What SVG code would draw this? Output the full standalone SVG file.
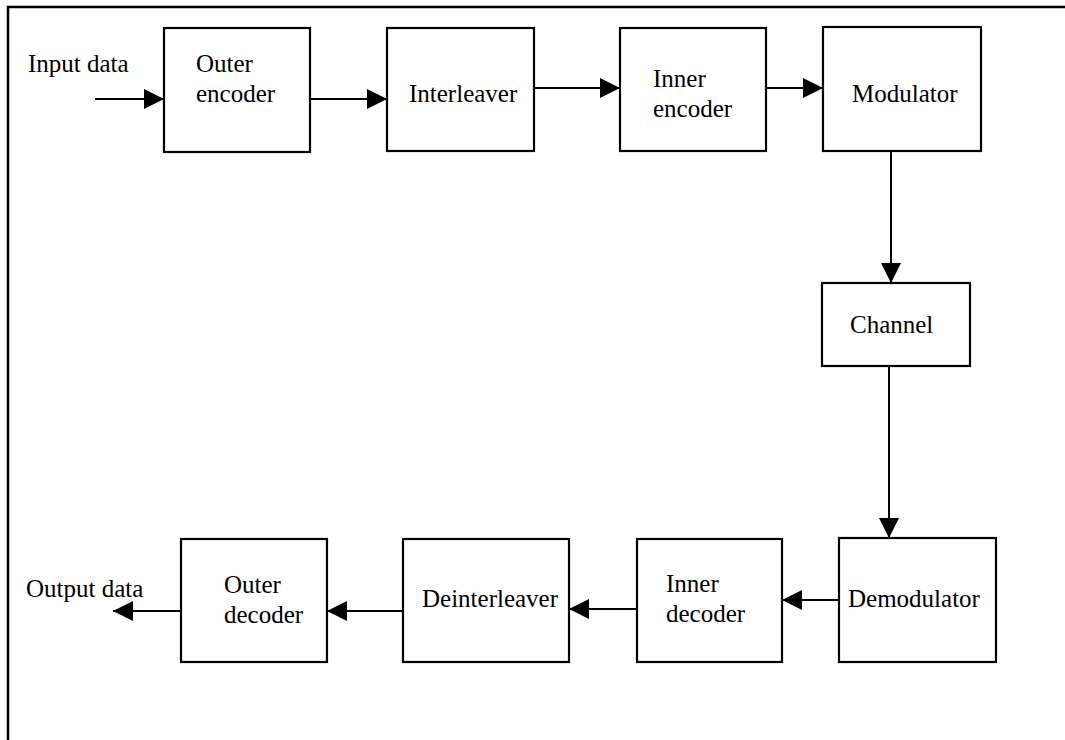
<svg xmlns="http://www.w3.org/2000/svg" width="1065" height="740" viewBox="0 0 1065 740">
  <style>
    .box { fill: #ffffff; stroke: #000000; stroke-width: 2.2; }
    .wire { fill: none; stroke: #000000; stroke-width: 2; marker-end: url(#head); }
    .frame { fill: none; stroke: #000000; stroke-width: 2.5; }
    text { font-family: "Liberation Serif", "Times New Roman", serif; font-size: 25px; fill: #000000; }
  </style>
  <defs>
    <marker id="head" viewBox="0 0 20 20" refX="20" refY="10" markerWidth="20" markerHeight="20" markerUnits="userSpaceOnUse" orient="auto">
      <path d="M0,0 L20,10 L0,20 Z" fill="#000000"/>
    </marker>
  </defs>
  <rect width="1065" height="740" fill="#ffffff"/>

  <!-- page frame: top and left edges -->
  <path class="frame" d="M8,740 L8,7 L1065,7"/>

  <!-- signal flow -->
  <g id="connectors">
    <line class="wire" x1="95" y1="99" x2="164" y2="99"/>
    <line class="wire" x1="310" y1="99" x2="387" y2="99"/>
    <line class="wire" x1="534" y1="88" x2="620" y2="88"/>
    <line class="wire" x1="766" y1="88" x2="823" y2="88"/>
    <line class="wire" x1="891" y1="151" x2="891" y2="283"/>
    <line class="wire" x1="889" y1="366" x2="889" y2="538"/>
    <line class="wire" x1="839" y1="600" x2="782" y2="600"/>
    <line class="wire" x1="637" y1="609" x2="569" y2="609"/>
    <line class="wire" x1="403" y1="611" x2="327" y2="611"/>
    <line class="wire" x1="181" y1="611" x2="113" y2="611"/>
  </g>

  <g id="input-label">
    <text x="28" y="72">Input data</text>
  </g>

  <g id="outer-encoder">
    <rect class="box" x="164" y="28" width="146" height="124"/>
    <text x="196" y="72">Outer</text>
    <text x="196" y="102">encoder</text>
  </g>

  <g id="interleaver">
    <rect class="box" x="387" y="28" width="147" height="123"/>
    <text x="409" y="102">Interleaver</text>
  </g>

  <g id="inner-encoder">
    <rect class="box" x="620" y="28" width="146" height="123"/>
    <text x="653" y="87">Inner</text>
    <text x="653" y="117">encoder</text>
  </g>

  <g id="modulator">
    <rect class="box" x="823" y="27" width="158" height="124"/>
    <text x="852" y="102">Modulator</text>
  </g>

  <g id="channel">
    <rect class="box" x="822" y="283" width="148" height="83"/>
    <text x="850" y="333">Channel</text>
  </g>

  <g id="demodulator">
    <rect class="box" x="839" y="538" width="157" height="124"/>
    <text x="848" y="607">Demodulator</text>
  </g>

  <g id="inner-decoder">
    <rect class="box" x="637" y="539" width="145" height="123"/>
    <text x="666" y="592">Inner</text>
    <text x="666" y="622">decoder</text>
  </g>

  <g id="deinterleaver">
    <rect class="box" x="403" y="539" width="166" height="123"/>
    <text x="422" y="607">Deinterleaver</text>
  </g>

  <g id="outer-decoder">
    <rect class="box" x="181" y="539" width="146" height="123"/>
    <text x="224" y="593">Outer</text>
    <text x="224" y="623">decoder</text>
  </g>

  <g id="output-label">
    <text x="26" y="597">Output data</text>
  </g>
</svg>
